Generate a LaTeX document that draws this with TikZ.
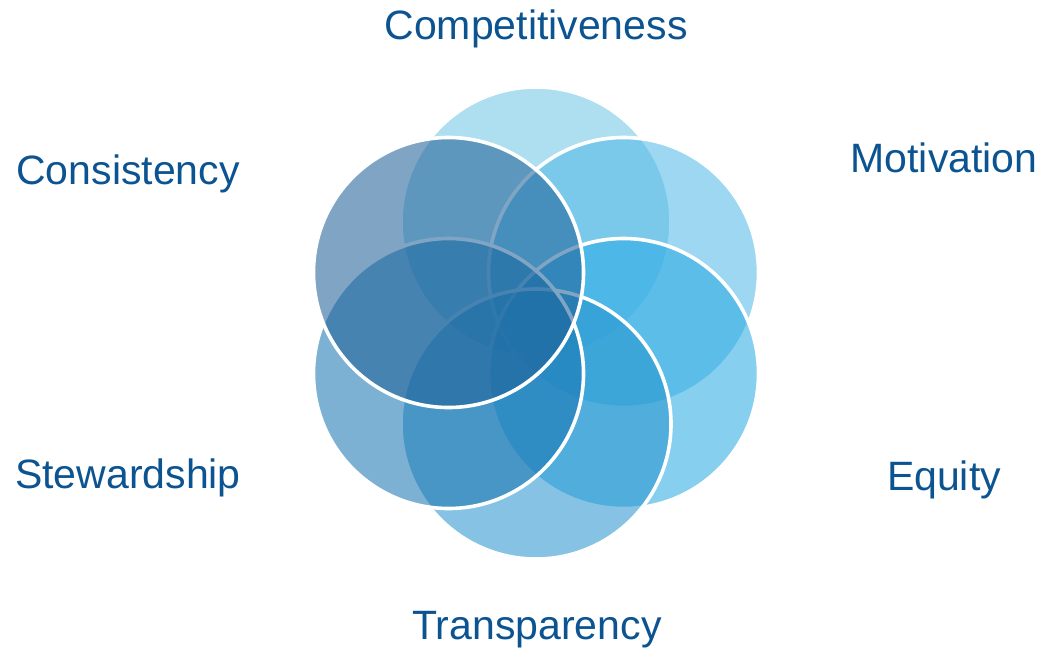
\documentclass[tikz,border=0pt]{standalone}
\usepackage{fontspec}
\setmainfont{Liberation Sans}
\definecolor{labelblue}{RGB}{12,84,145}
\definecolor{cComp}{RGB}{111,199,231}
\definecolor{cMot}{RGB}{82,184,231}
\definecolor{cEq}{RGB}{42,170,228}
\definecolor{cTra}{RGB}{38,148,206}
\definecolor{cSte}{RGB}{24,117,177}
\definecolor{cCon}{RGB}{30,96,150}
\tikzset{
  petal/.style={circle, minimum size=270pt, inner sep=0pt, draw=white, line width=3.6pt, fill opacity=0.56, text opacity=1},
  lbl/.style={text=labelblue, font=\fontsize{41}{48}\selectfont, anchor=base, inner sep=0pt}
}
\begin{document}
\begin{tikzpicture}[x=1pt,y=-1pt]
\useasboundingbox[fill=white] (0,0) rectangle (1040,651);
\node[petal, fill=cComp] (comp) at (536,222) {};
\node[petal, fill=cMot] (mot) at (623.5,272.5) {};
\node[petal, fill=cEq] (eq) at (623.5,373.5) {};
\node[petal, fill=cTra] (tra) at (536,424) {};
\node[petal, fill=cSte] (ste) at (448.5,373.5) {};
\node[petal, fill=cCon] (con) at (448.5,272.5) {};
\node[lbl] (tComp) at (536,39) {Competitiveness};
\node[lbl] (tMot) at (944,172) {Motivation};
\node[lbl] (tEq) at (944,490) {Equity};
\node[lbl] (tTra) at (537,639) {Transparency};
\node[lbl] (tSte) at (128,488) {Stewardship};
\node[lbl] (tCon) at (128,184) {Consistency};
\end{tikzpicture}
\end{document}
